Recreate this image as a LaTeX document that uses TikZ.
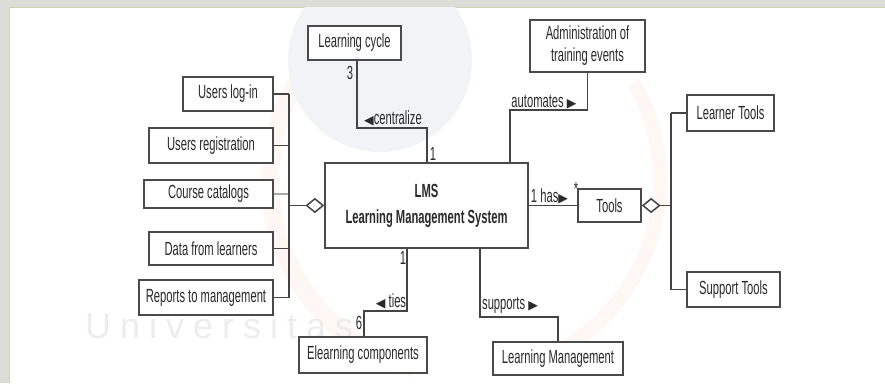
\documentclass[tikz,border=0pt]{standalone}
\usepackage{fontspec}
\setmainfont{Liberation Sans}[FakeStretch=0.59]
\newfontfamily\symf{DejaVu Sans}
\newfontfamily\wmfont{Liberation Sans}[LetterSpace=25]
\usetikzlibrary{shapes.geometric}
\newcommand{\mytriL}{{\symf\fontsize{12.5}{12}\selectfont ◀}}
\newcommand{\mytriR}{{\symf\fontsize{12.5}{12}\selectfont ▶}}
\definecolor{framec}{HTML}{DCDDD6}
\definecolor{panelline}{HTML}{CCD4B8}
\definecolor{boxc}{HTML}{4A4A4A}
\definecolor{linec}{HTML}{444444}
\definecolor{lightline}{HTML}{A8A8A8}
\definecolor{txtc}{HTML}{2A2A2A}
\definecolor{wmblue}{HTML}{F1F3F7}
\definecolor{wmorange}{HTML}{FEF7F3}
\definecolor{wmgrey}{HTML}{EDEDED}
\begin{document}
\begin{tikzpicture}[x=1pt,y=-1pt,
  box/.style={draw=boxc, line width=1.8pt, fill=white, inner sep=0pt,
    text=txtc, font=\fontsize{19}{22}\selectfont, align=center},
  conn/.style={draw=linec, line width=1.5pt},
  lbl/.style={inner sep=0pt, text=txtc, font=\fontsize{19}{21}\selectfont},
  agg/.style={diamond, draw=linec, fill=white, line width=1.5pt,
    minimum width=17pt, minimum height=14pt, inner sep=0pt}]
% background and panel
\useasboundingbox (0,0) rectangle (885,383);
\fill[framec] (0,0) rectangle (885,383);
\fill[white] (9,7) rectangle (885,383);
\draw[panelline, line width=0.8pt] (9,383) -- (9,7) -- (885,7);
% faint watermark
\begin{scope}
\clip (9,7) rectangle (885,383);
\draw[wmorange, line width=18pt] (465,180) ++(105:195) arc (105:225:195);
\draw[wmorange, line width=14pt] (465,180) ++(-30:195) arc (-30:70:195);
\fill[wmblue] (380,60) circle (92);
\end{scope}
\node[text=wmgrey, font=\wmfont\fontsize{36}{36}\selectfont, anchor=west, inner sep=0pt] (wm) at (85,326) {Universitas};
% boxes
\node[box, minimum width=93pt, minimum height=34pt] (lc) at (354.5,43) {Learning cycle};
\node[box, minimum width=115pt, minimum height=52pt] (adm) at (587.5,46) {Administration of\\training events};
\node[box, minimum width=90pt, minimum height=34pt] (ul) at (228,94) {Users log-in};
\node[box, minimum width=124pt, minimum height=35pt] (ur) at (211,145.5) {Users registration};
\node[box, minimum width=129pt, minimum height=28pt] (cc) at (208.5,194) {Course catalogs};
\node[box, minimum width=124pt, minimum height=33pt] (dl) at (211,248.5) {Data from learners};
\node[box, minimum width=134pt, minimum height=35pt] (rm) at (206,297.5) {Reports to management};
\node[box, minimum width=203pt, minimum height=85pt, font=\fontsize{19}{26}\selectfont\bfseries] (lms) at (426.5,205.5) {LMS\\Learning Management System};
\node[box, minimum width=63pt, minimum height=33pt] (tools) at (609.5,205.5) {Tools};
\node[box, minimum width=87pt, minimum height=36pt] (lt) at (730.5,113) {Learner Tools};
\node[box, minimum width=93pt, minimum height=35pt] (st) at (733.5,289.5) {Support Tools};
\node[box, minimum width=128pt, minimum height=36pt] (ec) at (363,355) {Elearning components};
\node[box, minimum width=130pt, minimum height=33pt] (lm) at (558,358.5) {Learning Management};
% aggregation diamonds
\node[agg, anchor=east] (dL) at (lms.west) {};
\node[agg, anchor=west] (dR) at (tools.east) {};
% bend points
\coordinate (c1) at (427,128);
\coordinate (c2) at (510,110);
\coordinate (c3) at (364,311);
\coordinate (c4) at (558,317);
\coordinate (busL) at (289,0);
\coordinate (busR) at (671,0);
% connectors
\draw[conn] ([xshift=2.5pt]lc.south) |- (c1) -- (c1 |- lms.north);
\draw[conn] (adm.south) |- (c2) -- (c2 |- lms.north);
\draw[conn] ([xshift=-19.5pt]lms.south) |- (c3) -- (c3 |- ec.north);
\draw[conn] ([xshift=53.5pt]lms.south) |- (c4) -- (lm.north);
\draw[conn] (lms.east) -- (tools.west);
% left aggregation
\draw[conn] (ul.east) -- (ul.east -| busL);
\draw[conn] (ur.east) -- (ur.east -| busL);
\draw[draw=lightline, line width=1.4pt] (cc.east) -- (cc.east -| busL);
\draw[conn] (dl.east) -- (dl.east -| busL);
\draw[conn] (rm.east) -- (rm.east -| busL);
\draw[conn] (ul.east -| busL) -- (rm.east -| busL);
\draw[conn] (dL.west) -- (dL.west -| busL);
% right aggregation
\draw[conn] (dR.east) -- (dR.east -| busR);
\draw[conn] (lt.west -| busR) -- (st.west -| busR);
\draw[conn] (lt.west -| busR) -- (lt.west);
\draw[conn] (st.west -| busR) -- (st.west);
% labels
\node[lbl] (m3) at (350,73) {3};
\node[lbl, anchor=west] (lcen) at (364,118) {\mytriL centralize};
\node[lbl] (m1a) at (433,154) {1};
\node[lbl] (lauto) at (544,102) {automates \mytriR};
\node[lbl] (lhas) at (549.5,196) {1 has\mytriR};
\node[lbl] (mstar) at (576,189) {*};
\node[lbl] (m1b) at (403,258) {1};
\node[lbl] (lties) at (391,301) {\mytriL\ ties};
\node[lbl] (m6) at (359,323) {6};
\node[lbl] (lsup) at (510,305) {supports \mytriR};
\end{tikzpicture}
\end{document}
